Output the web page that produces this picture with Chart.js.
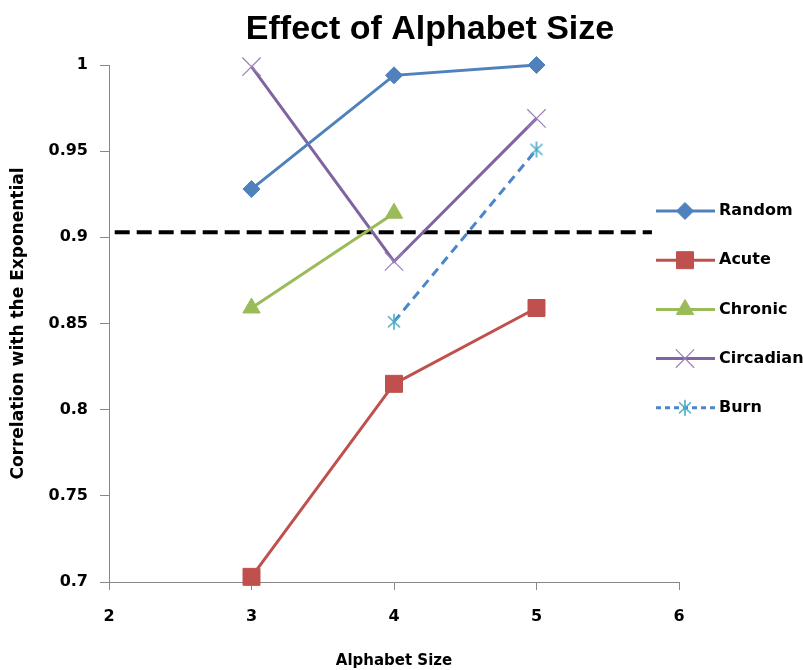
<!DOCTYPE html>
<html><head><meta charset="utf-8">
<script src="https://cdn.jsdelivr.net/npm/chart.js@4/dist/chart.umd.min.js"></script>
<style>html,body{margin:0;padding:0;background:#fff}</style>
</head><body>
<canvas id="c" width="803" height="670"></canvas>
<script>
const chartTitle = 'Effect of Alphabet Size';
const xValues = [3, 4, 5];
const randomVals = [0.928, 0.994, 1.0];
const acuteVals = [0.703, 0.815, 0.859];
const chronicX = [3, 4];
const chronicVals = [0.859, 0.914];
const circadianVals = [0.999, 0.886, 0.969];
const burnX = [4, 5];
const burnVals = [0.851, 0.951];
const thresholdX = [2.04, 5.81];
const thresholdVals = [0.903, 0.903];
const xTicks = [2, 3, 4, 5, 6];
const yTicks = [0.7, 0.75, 0.8, 0.85, 0.9, 0.95, 1];
const seriesNames = ['Random', 'Acute', 'Chronic', 'Circadian', 'Burn'];

const pts = (xs, ys) => xs.map((x, i) => ({x: x, y: ys[i]}));
const tickFont = {family: '"DejaVu Sans"', size: 16, weight: 'bold'};

// six-armed asterisk marker for Burn
const starImg = document.createElement('canvas');
starImg.width = 20; starImg.height = 20;
(function () {
  const c = starImg.getContext('2d');
  c.strokeStyle = '#4BACC6'; c.lineWidth = 1.6; c.lineCap = 'butt';
  c.beginPath();
  c.moveTo(10, 2); c.lineTo(10, 18);
  c.moveTo(4, 4.5); c.lineTo(16, 15.5);
  c.moveTo(16, 4.5); c.lineTo(4, 15.5);
  c.stroke();
})();

const titlePlugin = {
  id: 'topTitle',
  afterDraw(chart) {
    const ctx = chart.ctx;
    ctx.save();
    ctx.fillStyle = '#000';
    ctx.font = 'bold 34px "Liberation Sans"';
    ctx.textAlign = 'center';
    ctx.textBaseline = 'middle';
    ctx.fillText(chartTitle, 430, 30);
    ctx.restore();
  }
};

const legendPlugin = {
  id: 'customLegend',
  afterDraw(chart) {
    const ctx = chart.ctx;
    const items = chart.data.datasets.filter(d => !d.noLegend);
    items.forEach((ds, i) => {
      const y = 211 + i * 49.2;
      ctx.save();
      ctx.strokeStyle = ds.borderColor;
      ctx.lineWidth = ds.borderWidth;
      ctx.setLineDash(ds.borderDash ? [5, 4] : []);
      ctx.beginPath(); ctx.moveTo(656, y); ctx.lineTo(715, y); ctx.stroke();
      ctx.setLineDash([]);
      ctx.fillStyle = ds.pointBackgroundColor;
      ctx.strokeStyle = ds.pointBorderColor;
      ctx.lineWidth = ds.pointBorderWidth;
      Chart.helpers.drawPoint(ctx, {pointStyle: ds.pointStyle, radius: ds.pointRadius, rotation: 0, borderWidth: ds.pointBorderWidth}, 685, y);
      ctx.fillStyle = '#000';
      ctx.font = 'bold 16px "DejaVu Sans"';
      ctx.textBaseline = 'middle';
      ctx.textAlign = 'left';
      ctx.fillText(ds.label, 719, y);
      ctx.restore();
    });
  }
};

new Chart(document.getElementById('c'), {
  type: 'scatter',
  data: {
    datasets: [
      {label: seriesNames[0], data: pts(xValues, randomVals), showLine: true, clip: false,
       borderColor: '#4F81BD', borderWidth: 3, pointStyle: 'rectRot', pointRadius: 8.5,
       pointBackgroundColor: '#4F81BD', pointBorderColor: '#4F81BD', pointBorderWidth: 1},
      {label: seriesNames[1], data: pts(xValues, acuteVals), showLine: true, clip: false,
       borderColor: '#C0504D', borderWidth: 3, pointStyle: 'rect', pointRadius: 12,
       pointBackgroundColor: '#C0504D', pointBorderColor: '#C0504D', pointBorderWidth: 1},
      {label: seriesNames[2], data: pts(chronicX, chronicVals), showLine: true, clip: false,
       borderColor: '#9BBB59', borderWidth: 3, pointStyle: 'triangle', pointRadius: 10,
       pointBackgroundColor: '#9BBB59', pointBorderColor: '#9BBB59', pointBorderWidth: 1},
      {label: seriesNames[3], data: pts(xValues, circadianVals), showLine: true, clip: false,
       borderColor: '#8064A2', borderWidth: 3, pointStyle: 'crossRot', pointRadius: 13,
       pointBackgroundColor: '#8064A2', pointBorderColor: '#9A80B8', pointBorderWidth: 1.2},
      {label: seriesNames[4], data: pts(burnX, burnVals), showLine: true, clip: false,
       borderColor: '#4A86C8', borderWidth: 3, borderDash: [9, 6], pointStyle: starImg, pointRadius: 10,
       pointBackgroundColor: '#4BACC6', pointBorderColor: '#4BACC6', pointBorderWidth: 1.3},
      {label: 'threshold', noLegend: true, data: pts(thresholdX, thresholdVals), showLine: true,
       borderColor: '#000', borderWidth: 4, borderDash: [15, 7], pointRadius: 0}
    ]
  },
  options: {
    responsive: false,
    devicePixelRatio: 1,
    animation: false,
    layout: {padding: {left: 0, right: 124, top: 65, bottom: 0}},
    plugins: {
      legend: {display: false},
      tooltip: {enabled: false},
      title: {display: false}
    },
    scales: {
      x: {
        type: 'linear', min: 2, max: 6,
        afterBuildTicks: s => { s.ticks = xTicks.map(v => ({value: v})); },
        afterFit: s => { s.height = 88; },
        grid: {drawOnChartArea: false, drawTicks: true, tickLength: 8, color: '#888'},
        border: {color: '#888', width: 1},
        ticks: {color: '#000', font: tickFont, padding: 17, callback: v => String(v)},
        title: {display: true, text: 'Alphabet Size', color: '#000', padding: 0,
          font: {family: '"DejaVu Sans"', size: 15, weight: 'bold', lineHeight: 1.2}}
      },
      y: {
        type: 'linear', min: 0.7, max: 1,
        afterBuildTicks: s => { s.ticks = yTicks.map(v => ({value: v})); },
        afterFit: s => { s.width = 109; },
        grid: {drawOnChartArea: false, drawTicks: true, tickLength: 9, color: '#888'},
        border: {color: '#888', width: 1},
        ticks: {color: '#000', font: tickFont, padding: 12, callback: v => String(Number(v.toFixed(2)))},
        title: {display: true, text: 'Correlation with the Exponential', color: '#000', padding: 8,
          font: {family: '"DejaVu Sans"', size: 17, weight: 'bold', lineHeight: 1.2}}
      }
    }
  },
  plugins: [titlePlugin, legendPlugin]
});
</script>
</body></html>
